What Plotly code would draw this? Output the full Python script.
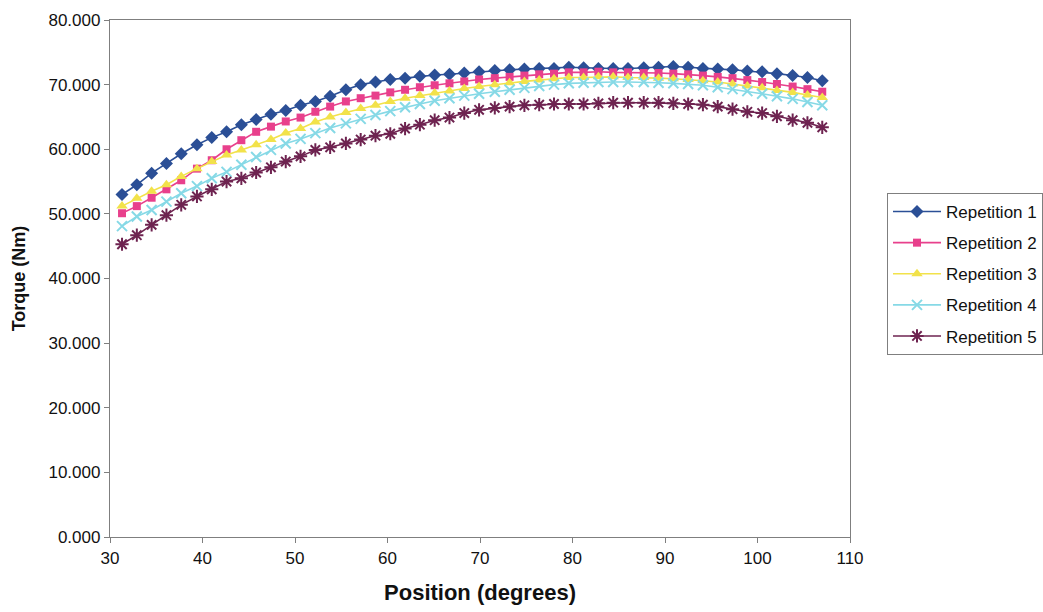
import plotly.graph_objects as go

# Knee position (degrees) at which torque was sampled
position = [31.3, 32.9, 34.5, 36.1, 37.7, 39.4, 41.0, 42.6, 44.2, 45.8,
            47.4, 49.0, 50.6, 52.2, 53.8, 55.5, 57.1, 58.7, 60.3, 61.9,
            63.5, 65.1, 66.7, 68.3, 69.9, 71.6, 73.2, 74.8, 76.4, 78.0,
            79.6, 81.2, 82.8, 84.4, 86.0, 87.7, 89.3, 90.9, 92.5, 94.1,
            95.7, 97.3, 98.9, 100.5, 102.1, 103.8, 105.4, 107.0]

# Torque (Nm) for each repetition
rep1 = [53.0, 54.5, 56.3, 57.8, 59.3, 60.7, 61.8, 62.7, 63.8, 64.6,
        65.4, 66.0, 66.8, 67.4, 68.2, 69.2, 70.0, 70.4, 70.8, 71.0,
        71.3, 71.5, 71.6, 71.8, 72.0, 72.2, 72.3, 72.4, 72.5, 72.5,
        72.7, 72.6, 72.5, 72.5, 72.5, 72.6, 72.7, 72.8, 72.7, 72.5,
        72.4, 72.3, 72.1, 72.0, 71.7, 71.4, 71.1, 70.6]
rep2 = [50.1, 51.2, 52.5, 53.8, 55.2, 57.0, 58.3, 60.0, 61.4, 62.7,
        63.5, 64.3, 64.9, 65.8, 66.6, 67.4, 67.9, 68.3, 68.8, 69.2,
        69.6, 69.9, 70.2, 70.5, 70.8, 71.0, 71.2, 71.4, 71.6, 71.7,
        71.9, 71.9, 72.0, 71.9, 71.9, 71.8, 71.8, 71.7, 71.6, 71.4,
        71.2, 71.0, 70.7, 70.4, 70.1, 69.7, 69.3, 68.9]
rep3 = [51.2, 52.4, 53.5, 54.5, 55.8, 57.0, 58.1, 59.1, 59.9, 60.7,
        61.5, 62.5, 63.2, 64.2, 65.0, 65.7, 66.3, 66.8, 67.4, 67.9,
        68.3, 68.7, 69.0, 69.4, 69.7, 70.0, 70.3, 70.5, 70.7, 70.9,
        71.1, 71.1, 71.2, 71.2, 71.1, 71.1, 71.0, 70.9, 70.8, 70.6,
        70.4, 70.1, 69.8, 69.5, 69.1, 68.8, 68.4, 68.0]
rep4 = [48.1, 49.6, 50.6, 51.9, 53.2, 54.3, 55.5, 56.5, 57.6, 58.8,
        59.9, 60.9, 61.6, 62.5, 63.3, 64.0, 64.7, 65.3, 65.9, 66.5,
        67.0, 67.5, 67.9, 68.3, 68.6, 68.9, 69.2, 69.5, 69.8, 70.0,
        70.2, 70.3, 70.4, 70.4, 70.4, 70.4, 70.3, 70.2, 70.1, 69.9,
        69.6, 69.3, 69.0, 68.6, 68.2, 67.8, 67.3, 66.8]
rep5 = [45.3, 46.7, 48.3, 49.8, 51.4, 52.7, 53.8, 55.0, 55.5, 56.4,
        57.2, 58.1, 58.9, 59.9, 60.3, 60.9, 61.5, 62.1, 62.4, 63.2,
        63.8, 64.5, 64.9, 65.6, 66.1, 66.4, 66.6, 66.8, 66.9, 67.0,
        67.0, 67.0, 67.1, 67.2, 67.2, 67.2, 67.2, 67.1, 67.0, 66.9,
        66.6, 66.2, 65.8, 65.6, 65.1, 64.5, 64.1, 63.4]

series_names = ["Repetition 1", "Repetition 2", "Repetition 3",
                "Repetition 4", "Repetition 5"]
x_ticks = [30, 40, 50, 60, 70, 80, 90, 100, 110]
y_ticks = [0, 10, 20, 30, 40, 50, 60, 70, 80]

styles = [
    dict(color="#2B4F96", symbol="diamond", size=10, lw=0),
    dict(color="#E8408C", symbol="square", size=8, lw=0),
    dict(color="#F2E24A", symbol="triangle-up", size=10, lw=0),
    dict(color="#86D9E6", symbol="x-thin-open", size=10, lw=2),
    dict(color="#6E2350", symbol="asterisk-open", size=11, lw=2),
]

FONT = "Liberation Sans, Arial, sans-serif"

fig = go.Figure()
for name, ys, st in zip(series_names, [rep1, rep2, rep3, rep4, rep5], styles):
    fig.add_trace(go.Scatter(
        x=position, y=ys, name=name, legendgroup=name, mode="lines+markers",
        line=dict(color=st["color"], width=1.6),
        marker=dict(symbol=st["symbol"], size=st["size"], color=st["color"],
                    line=dict(color=st["color"], width=st["lw"])),
    ))

axis_common = dict(
    showline=True, linecolor="#7f7f7f", linewidth=1.3, mirror=True,
    ticks="outside", ticklen=5, tickcolor="#7f7f7f", showgrid=False,
    zeroline=False, tickfont=dict(family=FONT, size=17, color="#111"),
)

fig.update_layout(
    width=1043, height=612,
    paper_bgcolor="white", plot_bgcolor="white",
    margin=dict(l=110, r=193, t=20, b=75, autoexpand=False),
    font=dict(family=FONT, color="#111"),
    xaxis=dict(range=[30, 110], tickvals=x_ticks,
               title=dict(text="<b>Position (degrees)</b>",
                          font=dict(family=FONT, size=22), standoff=18),
               **axis_common),
    yaxis=dict(range=[0, 80], tickvals=y_ticks, tickformat=".3f",
               title=dict(text="<b>Torque (Nm)</b>",
                          font=dict(family=FONT, size=18), standoff=18),
               **axis_common),
    legend=dict(xref="container", yref="container",
                x=887 / 1043, y=1 - 193 / 612, xanchor="left", yanchor="top",
                bordercolor="#7f7f7f", borderwidth=1, bgcolor="white",
                font=dict(family=FONT, size=17, color="#111"),
                tracegroupgap=6, itemwidth=48),
    showlegend=True,
)

fig.write_html("out.html")
